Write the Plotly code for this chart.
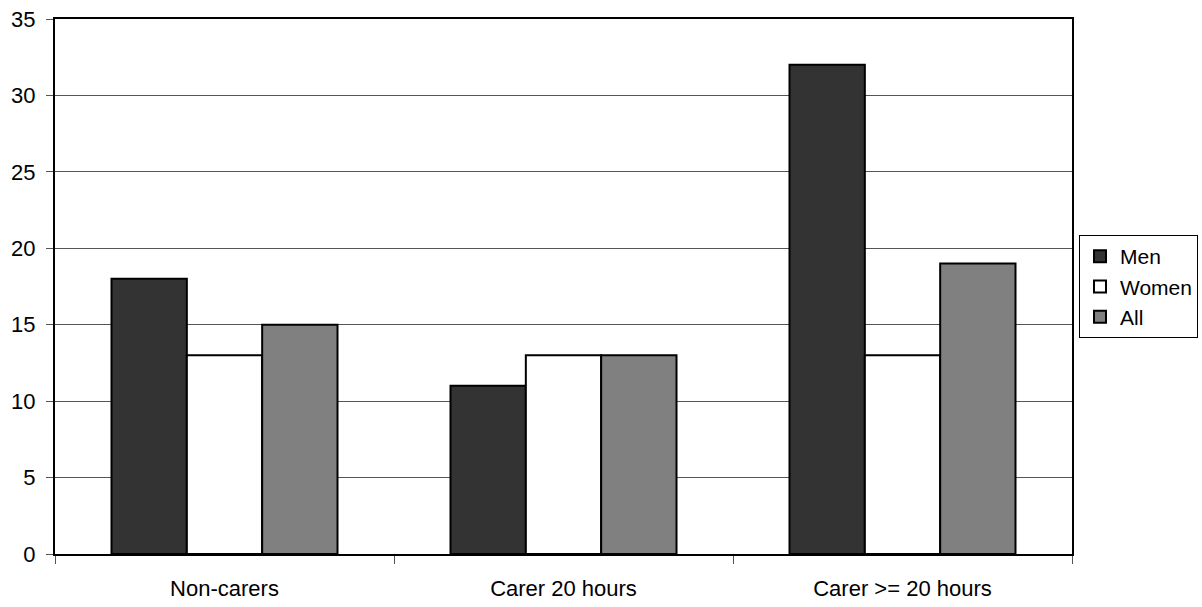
import plotly.graph_objects as go

categories = ["Non-carers", "Carer 20 hours", "Carer >= 20 hours"]
men = [18, 11, 32]
women = [13, 13, 13]
all_people = [15, 13, 19]

series = [
    ("Men", men, "#333333"),
    ("Women", women, "#ffffff"),
    ("All", all_people, "#808080"),
]

fig = go.Figure()
for name, values, color in series:
    fig.add_trace(go.Bar(
        name=name, x=categories, y=values,
        marker=dict(color=color, line=dict(color="#000000", width=2)),
    ))

fig.update_layout(
    width=1202, height=607,
    barmode="group", bargap=1/3, bargroupgap=0,
    plot_bgcolor="#ffffff", paper_bgcolor="#ffffff",
    margin=dict(l=55, r=130, t=19, b=53, autoexpand=False),
    font=dict(family="Liberation Sans, Arial, sans-serif", size=22, color="#000000"),
    legend=dict(
        x=(1079 - 55) / 1017, y=(553 - 286) / 534, xanchor="left", yanchor="middle",
        bordercolor="#000000", borderwidth=1, bgcolor="#ffffff",
        font=dict(size=21), tracegroupgap=0, itemwidth=30,
    ),
)
fig.update_xaxes(
    type="category", tickson="boundaries", ticks="outside", ticklen=8,
    tickcolor="#555555", showline=True, linecolor="#000000", linewidth=2,
    mirror=True, showgrid=False, ticklabelstandoff=14,
)
fig.update_yaxes(
    range=[0, 35], dtick=5, ticks="outside", ticklen=7, tickcolor="#555555",
    showline=True, linecolor="#000000", linewidth=2, mirror=True,
    showgrid=True, gridcolor="#555555", gridwidth=1, zeroline=False,
    ticklabelstandoff=6,
)

fig.write_html("out.html")
